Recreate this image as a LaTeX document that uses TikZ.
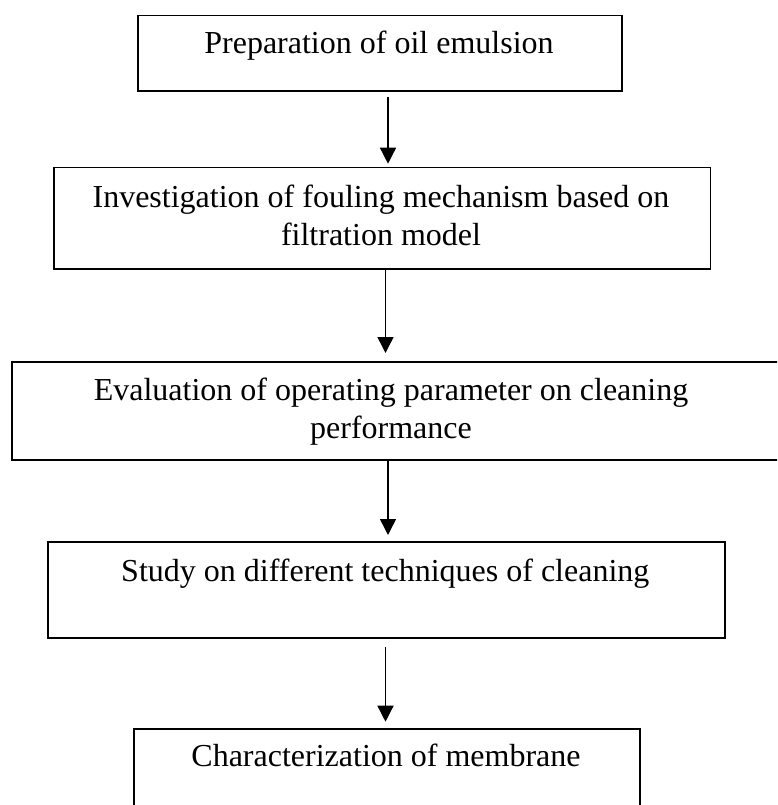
\documentclass[tikz,border=0pt]{standalone}
\usepackage{fontspec}
\setmainfont{Liberation Serif}
\usetikzlibrary{arrows.meta}
\begin{document}
\begin{tikzpicture}[x=1pt,y=-1pt,
  box/.style={draw=black, line width=1.8pt, rectangle, anchor=north west, inner sep=0pt},
  lbl/.style={anchor=base, inner sep=0pt, align=center, font=\fontsize{32}{38}\selectfont},
  arr/.style={draw=black, line width=1.5pt, -{Triangle[length=16pt,width=16pt]}}]
\useasboundingbox (0,0) rectangle (777,805);
\clip (0,0) rectangle (777,805);
% boxes
\node[box, minimum width=484pt, minimum height=75.3pt] (b1) at (137,14.7) {};
\node[box, minimum width=656.8pt, minimum height=101.6pt] (b2) at (52.7,166.7) {};
\node[box, minimum width=770pt, minimum height=98pt] (b3) at (11,361) {};
\node[box, minimum width=677.3pt, minimum height=96.6pt] (b4) at (46.7,540.7) {};
\node[box, minimum width=506.6pt, minimum height=110pt] (b5) at (132.7,727.7) {};
% texts (anchor base = baseline of last line)
\node[lbl] (t1) at (379,53.3) {Preparation of oil emulsion};
\node[lbl] (t2) at (381,245.5) {Investigation of fouling mechanism based on\\filtration model};
\node[lbl] (t3) at (391,438.5) {Evaluation of operating parameter on cleaning\\performance};
\node[lbl] (t4) at (385.3,581.7) {Study on different techniques of cleaning};
\node[lbl] (t5) at (386,766.7) {Characterization of membrane};
% arrow axes
\coordinate (ax1) at (388,0);
\coordinate (ax2) at (385.5,0);
% connectors
\draw[arr, shorten <=5pt, shorten >=3pt] (b1.south -| ax1) -- (b2.north -| ax1);
\draw[arr, shorten <=0pt, shorten >=8pt] (b2.south -| ax2) -- (b3.north -| ax2);
\draw[arr, shorten <=0pt, shorten >=5.7pt] (b3.south -| ax1) -- (b4.north -| ax1);
\draw[arr, shorten <=7.7pt, shorten >=6pt] (b4.south -| ax2) -- (b5.north -| ax2);
\end{tikzpicture}
\end{document}
